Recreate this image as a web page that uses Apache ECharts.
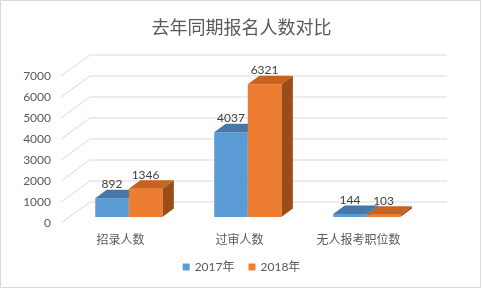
<!DOCTYPE html>
<html>
<head>
<meta charset="utf-8">
<script src="https://cdn.jsdelivr.net/npm/echarts@6/dist/echarts.min.js"></script>
<style>
  html, body { margin: 0; padding: 0; background: #fff; }
  #chart { width: 483px; height: 289px; }
</style>
</head>
<body>
<div id="chart"></div>
<script>
// 去年同期报名人数对比 (3D柱状图)
const categories = ["招录人数", "过审人数", "无人报考职位数"]
const values2017 = [892, 4037, 144]
const values2018 = [1346, 6321, 103]
const seriesNames = ["2017年", "2018年"]
const yTicks = [0, 1000, 2000, 3000, 4000, 5000, 6000, 7000]

const FONT = "Lato, 'Noto Sans CJK SC', sans-serif"
// 地板深度偏移, 柱子偏移
const FLOOR = [29, -21]
const BAR_SHIFT = [8.3, -6]
const BAR_DEPTH = [11.5, -8.5]

const colors = [
  { front: "#5b9bd5", top: "#4677a7", side: "#3c6793" },
  { front: "#ed7d31", top: "#c8631f", side: "#9c4d17" }
]

function barRender(seriesIdx) {
  return function (params, api) {
    const idx = api.value(0)
    const val = api.value(1)
    const base = api.coord([idx, 0])
    const top = api.coord([idx, val])
    const w = api.size([1, 0])[0] * 0.282
    const x0 = base[0] - (seriesIdx === 0 ? w : 0) + BAR_SHIFT[0]
    const x1 = x0 + w
    const yb = base[1] + BAR_SHIFT[1]
    const yt = top[1] + BAR_SHIFT[1]
    const [dx, dy] = BAR_DEPTH
    const c = colors[seriesIdx]
    return {
      type: "group",
      children: [
        { type: "polygon", shape: { points: [[x1, yt], [x1, yb], [x1 + dx, yb + dy], [x1 + dx, yt + dy]] }, style: { fill: c.side } },
        { type: "rect", shape: { x: x0, y: yt, width: w, height: yb - yt }, style: { fill: c.front } },
        { type: "polygon", shape: { points: [[x0, yt], [x1, yt], [x1 + dx, yt + dy], [x0 + dx, yt + dy]] }, style: { fill: c.top } },
        { type: "text", x: (x0 + x1) / 2, y: yt - 14, style: { text: String(val), fill: "#404040", font: "12px " + FONT, align: "center", verticalAlign: "middle" } }
      ]
    }
  }
}

function gridRender(params, api) {
  const v = api.value(1)
  const y = api.coord([0, v])[1]
  const cs = params.coordSys
  const left = cs.x
  const right = cs.x + cs.width
  return {
    type: "polyline",
    shape: { points: [[left, y], [left + FLOOR[0], y + FLOOR[1]], [right + FLOOR[0], y + FLOOR[1]]] },
    style: { stroke: "#d9d9d9", lineWidth: 1, fill: null }
  }
}

const chart = echarts.init(document.getElementById("chart"), null, { renderer: "canvas" })

chart.setOption({
  animation: false,
  backgroundColor: "#fff",
  title: {
    text: "去年同期报名人数对比",
    left: "center",
    top: 14,
    textStyle: { fontSize: 18, fontWeight: "normal", color: "#595959", fontFamily: FONT }
  },
  legend: {
    bottom: 11,
    left: "center",
    icon: "rect",
    itemWidth: 7,
    itemHeight: 7,
    itemGap: 14,
    textStyle: { fontSize: 12, color: "#595959", fontFamily: FONT },
    data: seriesNames.map((n, i) => ({ name: n, itemStyle: { color: colors[i].front } }))
  },
  grid: { left: 61, right: 65, top: 76, bottom: 66 },
  xAxis: {
    type: "category",
    data: categories,
    axisLine: { show: false },
    axisTick: { show: false },
    axisLabel: { fontSize: 12, color: "#595959", fontFamily: FONT, margin: 11 }
  },
  yAxis: {
    type: "value",
    min: 0,
    max: 7000,
    interval: 1000,
    axisLine: { show: false },
    axisTick: { show: false },
    splitLine: { show: false },
    axisLabel: { fontSize: 12, color: "#595959", fontFamily: FONT, margin: 10, formatter: v => String(v) }
  },
  graphic: [{
    type: "rect",
    shape: { x: 0.5, y: 0.5, width: 480, height: 287 },
    style: { fill: null, stroke: "#d9d9d9", lineWidth: 1 },
    silent: true
  }],
  series: [
    {
      type: "custom",
      name: "grid",
      z: 1,
      silent: true,
      renderItem: gridRender,
      data: yTicks.map(v => [0, v])
    },
    {
      type: "custom",
      name: seriesNames[0],
      z: 2,
      itemStyle: { color: colors[0].front },
      renderItem: barRender(0),
      data: values2017.map((v, i) => [i, v])
    },
    {
      type: "custom",
      name: seriesNames[1],
      z: 3,
      itemStyle: { color: colors[1].front },
      renderItem: barRender(1),
      data: values2018.map((v, i) => [i, v])
    }
  ]
})
</script>
</body>
</html>
